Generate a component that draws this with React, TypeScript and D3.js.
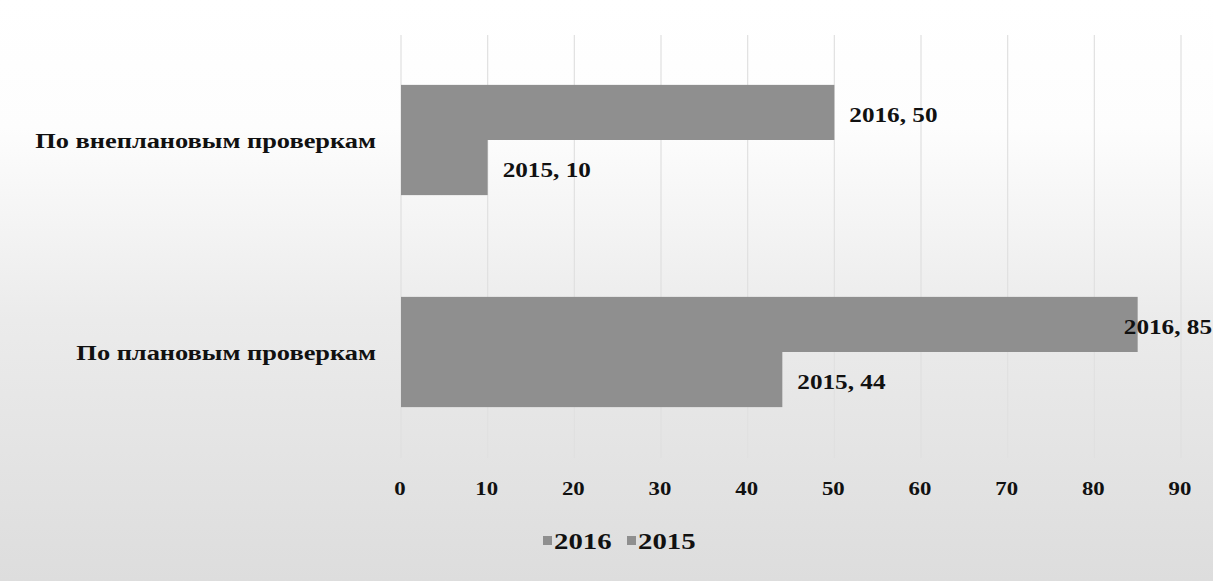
import React from "react";
import * as d3 from "d3";

const categories = ["По внеплановым проверкам", "По плановым проверкам"];
const seriesNames = ["2016", "2015"];
const values2016 = [50, 85];
const values2015 = [10, 44];
const ticks = [0, 10, 20, 30, 40, 50, 60, 70, 80, 90];

const W = 1213;
const H = 581;
const FONT = "'Liberation Serif', 'Times New Roman', serif";
const SX = 1.2;

function T(props: {
  x: number;
  y: number;
  size: number;
  anchor?: "start" | "middle" | "end";
  children: React.ReactNode;
}) {
  return (
    <g transform={`translate(${props.x},${props.y}) scale(${SX},1)`}>
      <text
        x={0}
        y={0}
        textAnchor={props.anchor || "start"}
        dominantBaseline="central"
        fontFamily={FONT}
        fontWeight="bold"
        fontSize={props.size}
        fill="#111"
      >
        {props.children}
      </text>
    </g>
  );
}

export default function App() {
  const x = d3.scaleLinear().domain([0, 90]).range([401, 1181]);
  const y = d3.scaleBand().domain(categories).range([34, 458]).paddingInner(0.48).paddingOuter(0.24);
  const series = [values2016, values2015];
  const barColor = "#8f8f8f";
  const bw = y.bandwidth() / 2;

  return (
    <svg width={W} height={H} style={{ position: "absolute", left: 0, top: 0 }}>
      <defs>
        <linearGradient id="bg" x1="0" y1="0" x2="0" y2="1">
          <stop offset="0" stopColor="#ffffff" />
          <stop offset="0.22" stopColor="#fdfdfd" />
          <stop offset="0.55" stopColor="#ebebeb" />
          <stop offset="1" stopColor="#dddddd" />
        </linearGradient>
      </defs>
      <rect x={0} y={0} width={W} height={H} fill="url(#bg)" />
      {ticks.map((t) => (
        <line key={t} x1={x(t)} x2={x(t)} y1={35} y2={458} stroke="#e0e0e0" strokeWidth={1.2} />
      ))}
      {categories.map((c, i) => (
        <g key={c}>
          {series.map((vals, s) => (
            <rect
              key={s}
              x={x(0)}
              y={(y(c) as number) + s * bw}
              width={x(vals[i]) - x(0)}
              height={bw}
              fill={barColor}
            />
          ))}
          <T x={376} y={(y(c) as number) + bw} size={22} anchor="end">
            {c}
          </T>
          {series.map((vals, s) => {
            const label = `${seriesNames[s]}, ${vals[i]}`;
            const lx = x(vals[i]) + 15;
            const overflow = lx + 88 > W;
            return (
              <T
                key={"l" + s}
                x={overflow ? W - 1 : lx}
                y={(y(c) as number) + s * bw + bw / 2 + 2}
                size={21}
                anchor={overflow ? "end" : "start"}
              >
                {label}
              </T>
            );
          })}
        </g>
      ))}
      {ticks.map((t) => (
        <T key={"t" + t} x={x(t) - 1} y={489} size={19} anchor="middle">
          {t}
        </T>
      ))}
      {seriesNames.map((n, i) => {
        const lx = 543 + i * 84;
        return (
          <g key={n}>
            <rect x={lx} y={536} width={9} height={9} fill={barColor} />
            <T x={lx + 11} y={541} size={24}>
              {n}
            </T>
          </g>
        );
      })}
    </svg>
  );
}
